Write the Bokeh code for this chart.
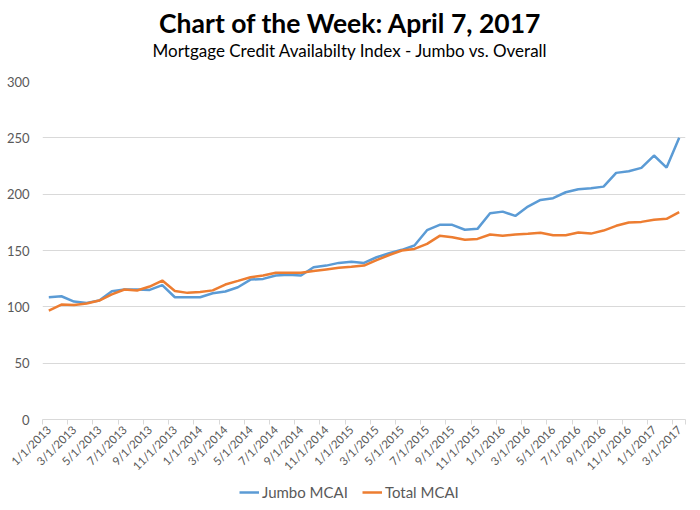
import math
from bokeh.plotting import figure
from bokeh.layouts import column
from bokeh.models import FixedTicker, Label, Legend, LegendItem, Range1d, ColumnDataSource
from bokeh.embed import file_html
from bokeh.resources import INLINE

title_text = "Chart of the Week: April 7, 2017"
subtitle_text = "Mortgage Credit Availabilty Index - Jumbo vs. Overall"

tick_labels = ["1/1/2013", "3/1/2013", "5/1/2013", "7/1/2013", "9/1/2013", "11/1/2013",
               "1/1/2014", "3/1/2014", "5/1/2014", "7/1/2014", "9/1/2014", "11/1/2014",
               "1/1/2015", "3/1/2015", "5/1/2015", "7/1/2015", "9/1/2015", "11/1/2015",
               "1/1/2016", "3/1/2016", "5/1/2016", "7/1/2016", "9/1/2016", "11/1/2016",
               "1/1/2017", "3/1/2017"]

jumbo = [108.6, 109.4, 104.7, 103.5, 105.6, 113.8, 115.4, 115.4, 115.0, 119.2,
         108.5, 108.5, 108.5, 112.0, 113.6, 117.4, 124.2, 124.8, 127.8, 128.4,
         127.8, 135.2, 136.6, 139.0, 140.0, 139.0, 144.0, 147.6, 150.6, 154.4,
         168.0, 172.8, 172.8, 168.4, 169.2, 183.0, 184.5, 180.7, 189.0, 194.9,
         196.4, 201.7, 204.4, 205.2, 206.7, 218.9, 220.3, 223.3, 234.3, 223.6,
         250.0]

total = [96.7, 102.0, 101.7, 103.0, 105.6, 111.0, 115.4, 114.5, 118.0, 123.3,
         114.0, 112.4, 113.2, 114.6, 119.8, 123.0, 126.3, 127.8, 130.3, 130.3,
         130.3, 131.8, 133.2, 134.6, 135.5, 136.6, 141.5, 146.0, 150.0, 151.4,
         155.9, 163.0, 161.8, 159.5, 160.3, 164.2, 163.0, 164.2, 164.8, 165.7,
         163.5, 163.5, 165.9, 165.0, 167.7, 171.9, 174.8, 175.4, 177.2, 178.1,
         184.0]

y_ticks = [0, 50, 100, 150, 200, 250, 300]
series_names = ["Jumbo MCAI", "Total MCAI"]
series_colors = ["#5B9BD5", "#ED7D31"]

n = len(jumbo)
x = list(range(n))
src = ColumnDataSource(dict(x=x, jumbo=jumbo, total=total))

FONT = "Lato"
GREY = "#595959"
W = 686
BL, BR = 42, 1   # borders of the chart frame (column aligns all frames)


def bare(fig):
    fig.outline_line_color = None
    fig.grid.visible = False
    fig.background_fill_color = "white"
    fig.border_fill_color = "white"


# ---- header with title and subtitle (x range in page pixels of the aligned frame)
HH = 73
hd = figure(width=W, height=HH, output_backend="svg", toolbar_location=None,
            x_range=Range1d(BL, W - BR), y_range=Range1d(0, HH), min_border=0,
            min_border_left=BL, min_border_right=BR, title=None,
            x_axis_location=None, y_axis_location=None)
bare(hd)
hd.add_layout(Label(x=350, y=HH - 22, text=title_text, text_align="center", text_baseline="middle",
                    text_font=FONT, text_font_size="26.5px", text_font_style="bold", text_color="black"))
hd.add_layout(Label(x=350, y=HH - 50, text=subtitle_text, text_align="center", text_baseline="middle",
                    text_font=FONT, text_font_size="17px", text_color="black"))

# ---- main chart
p = figure(width=W, height=408, output_backend="svg", toolbar_location=None,
           x_range=Range1d(-0.5, n - 0.5), y_range=Range1d(0, 300),
           min_border_left=BL, min_border_right=BR, min_border_top=8, min_border_bottom=62,
           title=None)
p.outline_line_color = None
p.background_fill_color = "white"
p.border_fill_color = "white"

r1 = p.line("x", "jumbo", source=src, line_color=series_colors[0], line_width=2.5)
r2 = p.line("x", "total", source=src, line_color=series_colors[1], line_width=2.5)

label_pos = list(range(0, n, 2))
p.xaxis.ticker = FixedTicker(ticks=label_pos, minor_ticks=[i - 0.5 for i in range(0, n + 1, 2)] + [n - 0.5])
p.xaxis.major_label_overrides = {i: tick_labels[k] for k, i in enumerate(label_pos)}
p.xaxis.major_label_orientation = math.pi / 4
p.xaxis.major_tick_out = 0
p.xaxis.major_tick_in = 0
p.xaxis.minor_tick_out = 5
p.xaxis.minor_tick_in = 0
p.xaxis.minor_tick_line_color = "#D9D9D9"
p.xaxis.axis_line_color = "#D9D9D9"
p.xaxis.axis_line_width = 1
p.xaxis.major_label_text_font = FONT
p.xaxis.major_label_text_font_size = "11.5px"
p.xaxis.major_label_text_color = GREY
p.xaxis.major_label_standoff = 3
p.xgrid.grid_line_color = None

p.yaxis.ticker = FixedTicker(ticks=y_ticks)
p.yaxis.axis_line_color = None
p.yaxis.major_tick_line_color = None
p.yaxis.major_tick_out = 0
p.yaxis.major_tick_in = 0
p.yaxis.minor_tick_line_color = None
p.yaxis.major_label_text_font = FONT
p.yaxis.major_label_text_font_size = "13px"
p.yaxis.major_label_text_color = GREY
p.yaxis.major_label_standoff = 13
p.ygrid.grid_line_color = "#D9D9D9"
p.ygrid.grid_line_width = 1

# ---- legend strip
lg = figure(width=W, height=20, output_backend="svg", toolbar_location=None,
            x_range=Range1d(-0.5, n - 0.5), y_range=Range1d(0, 1), min_border=0,
            min_border_left=BL, min_border_right=BR, title=None,
            x_axis_location=None, y_axis_location=None)
bare(lg)
l1 = lg.line("x", "jumbo", source=src, line_color=series_colors[0], line_width=2.5)
l2 = lg.line("x", "total", source=src, line_color=series_colors[1], line_width=2.5)
legend = Legend(items=[LegendItem(label=series_names[0], renderers=[l1]),
                       LegendItem(label=series_names[1], renderers=[l2])],
                orientation="horizontal", location=(239 - BL, 0),
                border_line_color=None, background_fill_alpha=0,
                label_text_font=FONT, label_text_font_size="15px", label_text_color=GREY,
                glyph_width=20, glyph_height=16, label_height=16, label_standoff=3,
                spacing=14, padding=2, margin=0)
lg.add_layout(legend, "center")

open("out.html", "w").write(file_html(column(hd, p, lg, spacing=0), INLINE))
